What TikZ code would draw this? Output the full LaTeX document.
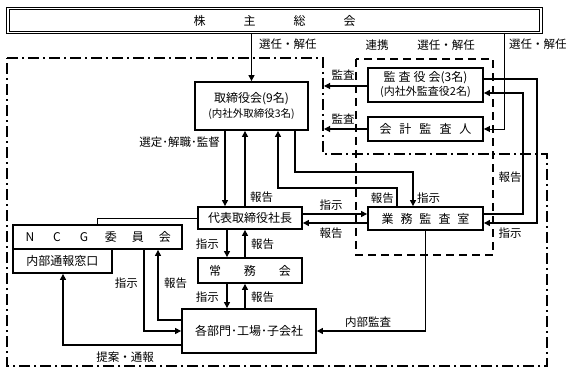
\documentclass[tikz,border=0pt]{standalone}
\usepackage{fontspec}
\setmainfont{Noto Sans CJK JP}
\usetikzlibrary{arrows.meta}
\begin{document}
\begin{tikzpicture}[x=1pt,y=-1pt,
  box/.style={draw, line width=1.8pt, fill=white, inner sep=0pt, align=center, font=\fontsize{12}{14}\selectfont},
  conn/.style={line width=1.1pt},
  thinconn/.style={line width=0.7pt},
  arr/.style={conn, -{Triangle[length=6pt,width=6pt]}},
  thinarr/.style={thinconn, -{Triangle[length=6pt,width=6pt]}},
  lab/.style={font=\fontsize{11.5}{13}\selectfont, inner sep=1pt},
  ddot/.style={line width=1.8pt, dash pattern=on 11pt off 4pt on 2pt off 4pt},
  dsh/.style={line width=1.8pt, dash pattern=on 8pt off 5pt},
  ]
\useasboundingbox (0,0) rectangle (576,374);

% boundaries
\draw[ddot] (7,58) -- (323,58) -- (323,154) -- (547,154) -- (547,366) -- (7,366) -- cycle;
\draw[dsh] (356,59) rectangle (493,255);

% boxes
\node[draw, double, double distance=1.6pt, line width=0.8pt, minimum width=533pt, minimum height=24pt, inner sep=0pt, font=\fontsize{12}{14}\selectfont] (sou) at (274.5,20.5)
  {株\hspace{38pt}主\hspace{38pt}総\hspace{38pt}会};
\node[box, minimum width=113pt, minimum height=48pt] (tori) at (251.5,106)
  {取締役会(9名)\\[1pt]{\fontsize{10.5}{12}\selectfont (内社外取締役3名)}};
\node[box, minimum width=115pt, minimum height=34pt] (kansa) at (425.5,85)
  {監\hspace{3pt}査\hspace{3pt}役\hspace{3pt}会(3名)\\{\fontsize{11}{12}\selectfont (内社外監査役2名)}};
\node[box, minimum width=115pt, minimum height=24pt] (kaikei) at (425.5,129)
  {会\hspace{8pt}計\hspace{8pt}監\hspace{8pt}査\hspace{8pt}人};
\node[box, minimum width=104pt, minimum height=22pt] (daihyo) at (250,218) {代表取締役社長};
\node[box, minimum width=115pt, minimum height=23pt] (gyomu) at (425.5,218.5)
  {業\hspace{7pt}務\hspace{7pt}監\hspace{7pt}査\hspace{7pt}室};
\node[box, minimum width=169pt, minimum height=24pt] (ncg) at (97.5,237)
  {\makebox[27pt]{N}\makebox[27pt]{C}\makebox[27pt]{G}\makebox[27pt]{委}\makebox[27pt]{員}\makebox[27pt]{会}};
\node[box, minimum width=99pt, minimum height=24pt] (naibu) at (62.5,261) {内部通報窓口};
\node[box, minimum width=104pt, minimum height=25pt] (jomu) at (250,270.5)
  {常\hspace{23pt}務\hspace{23pt}会};
\node[box, minimum width=134pt, minimum height=44pt] (kakubu) at (249,331) {各部門･工場･子会社};

% helper coordinates
\coordinate (k1) at (324,86);
\coordinate (k2) at (324,129);

% connectors
\draw[arr] (sou.south -| tori.north) -- (tori.north);
\draw[arr] (225,0 |- tori.south) -- (225,0 |- daihyo.north);
\draw[arr] (245,0 |- daihyo.north) -- (245,0 |- tori.south);
\draw[arr] (397,0 |- gyomu.north) -- (397,188) -- (278,188) -- (278,0 |- tori.south);
\draw[arr] (295,0 |- tori.south) -- (295,172) -- (413,172) -- (413,0 |- gyomu.north);
\draw[arr] (daihyo.east |- 0,214) -- (gyomu.west |- 0,214);
\draw[arr] (gyomu.west |- 0,223) -- (daihyo.east |- 0,223);
\draw[thinconn] (daihyo.west) -- (97.5,218) -- (ncg.north);
\draw[arr] (227,0 |- daihyo.south) -- (227,0 |- jomu.north);
\draw[arr] (245,0 |- jomu.north) -- (245,0 |- daihyo.south);
\draw[arr] (227,0 |- jomu.south) -- (227,0 |- kakubu.north);
\draw[arr] (245,0 |- kakubu.north) -- (245,0 |- jomu.south);
\draw[arr] (144,0 |- ncg.south) -- (144,331) -- (kakubu.west |- 0,331);
\draw[arr] (kakubu.west |- 0,320) -- (158,320) -- (158,0 |- ncg.south);
\draw[arr] (kakubu.west |- 0,345) -- (63,345) -- (63,0 |- naibu.south);
\draw[arr] (gyomu.south) -- (425.5,331) -- (kakubu.east |- 0,331);
\draw[arr] (kansa.west |- k1) -- (k1);
\draw[arr] (kaikei.west |- k2) -- (k2);
\draw[thinarr] (504,0 |- sou.south) -- (504,129) -- (kaikei.east |- 0,129);
\draw[arr] (kansa.east |- 0,79) -- (537,79) -- (537,223) -- (gyomu.east |- 0,223);
\draw[arr] (gyomu.east |- 0,214) -- (523,214) -- (523,93) -- (kansa.east |- 0,93);

% labels
\node[lab, anchor=west] (l1) at (258,44) {選任・解任};
\node[lab] (l2) at (377,45) {連携};
\node[lab] (l3) at (446,45) {選任・解任};
\node[lab, anchor=west] (l4) at (508,44) {選任・解任};
\node[lab] (l5) at (343,75) {監査};
\node[lab] (l6) at (343,119) {監査};
\node[lab, anchor=east] (l7) at (221,142) {選定･解職･監督};
\node[lab, anchor=west] (l8) at (249,197) {報告};
\node[lab, anchor=east] (l9) at (395,198) {報告};
\node[lab, anchor=west] (l10) at (416,198) {指示};
\node[lab] (l11) at (331,205) {指示};
\node[lab] (l12) at (331,233) {報告};
\node[lab] (l13) at (510,177) {報告};
\node[lab] (l14) at (510,233) {指示};
\node[lab, anchor=east] (l15) at (220,244) {指示};
\node[lab, anchor=west] (l16) at (250,244) {報告};
\node[lab, anchor=east] (l17) at (220,297) {指示};
\node[lab, anchor=west] (l18) at (250,297) {報告};
\node[lab, anchor=east] (l19) at (139,283) {指示};
\node[lab, anchor=west] (l20) at (163,283) {報告};
\node[lab] (l21) at (125,357) {提案・通報};
\node[lab] (l22) at (368,322) {内部監査};
\end{tikzpicture}
\end{document}
